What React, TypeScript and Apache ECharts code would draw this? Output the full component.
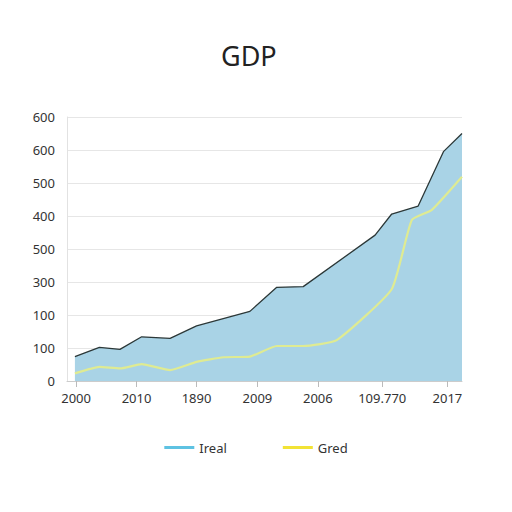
import React, { useEffect, useRef } from "react";
import * as echarts from "echarts";

// x positions are on an abstract 0..100 scale across the plot
const realPoints: [number, number][] = [
  [2.0, 74], [8.2, 102], [13.4, 96], [18.9, 134], [26.1, 129], [32.8, 167],
  [46.3, 211], [53.1, 284], [59.8, 286], [78.0, 442], [82.2, 506],
  [88.9, 530], [95.3, 695], [100, 750],
];
const gredPoints: [number, number][] = [
  [2.0, 23], [8.2, 43], [13.4, 38], [18.9, 51], [26.1, 33], [32.8, 58],
  [39.6, 72], [46.3, 74], [53.1, 106], [59.8, 106], [68.3, 124],
  [82.2, 278], [87.3, 488], [92.3, 518], [100, 619],
];
const xTickPositions = [2.3, 17.6, 32.8, 48.2, 63.5, 79.8, 96.3];
const xTickLabels = ["2000", "2010", "1890", "2009", "2006", "109.770", "2017"];
const yTickLabels = ["0", "100", "100", "300", "500", "400", "500", "600", "600"];
const seriesNames = ["Ireal", "Gred"];

const FONT = "Noto Sans";

export default function App() {
  const ref = useRef<HTMLDivElement>(null);
  useEffect(() => {
    if (!ref.current) return;
    const chart = echarts.init(ref.current, undefined, { renderer: "svg" });
    chart.setOption({
      animation: false,
      backgroundColor: "#ffffff",
      title: {
        text: "GDP",
        left: 208,
        top: 29,
        textStyle: { fontFamily: FONT, fontSize: 27, fontWeight: "normal", color: "#222" },
      },
      legend: {
        bottom: 45,
        left: "center",
        icon: "rect",
        itemWidth: 30,
        itemHeight: 3,
        itemGap: 56,
        textStyle: { fontFamily: FONT, fontSize: 13, color: "#333" },
        data: [
          { name: seriesNames[0], itemStyle: { color: "#5ec2e2" } },
          { name: seriesNames[1], itemStyle: { color: "#f2e335" } },
        ],
      },
      grid: { left: 59, right: 42, top: 109, bottom: 123 },
      xAxis: {
        type: "value",
        min: 0,
        max: 100,
        splitLine: { show: false },
        axisLine: { show: true, lineStyle: { color: "#cccccc" } },
        axisTick: {
          show: true,
          customValues: xTickPositions,
          length: 6,
          lineStyle: { color: "#bbbbbb" },
        },
        axisLabel: {
          customValues: xTickPositions,
          formatter: (v: number) => {
            const i = xTickPositions.indexOf(v);
            return i >= 0 ? xTickLabels[i] : "";
          },
          fontFamily: FONT,
          fontSize: 13,
          color: "#333",
          margin: 10,
        },
      },
      yAxis: {
        type: "value",
        min: 0,
        max: 800,
        interval: 100,
        axisLine: { show: true, lineStyle: { color: "#e2e2e2" } },
        axisTick: { show: false },
        splitLine: { lineStyle: { color: "#e6e6e6" } },
        axisLabel: {
          formatter: (v: number) => yTickLabels[Math.round(v / 100)] ?? "",
          fontFamily: FONT,
          fontSize: 13,
          color: "#333",
          margin: 12,
        },
      },
      series: [
        {
          name: seriesNames[0],
          type: "line",
          data: realPoints,
          symbol: "none",
          itemStyle: { color: "#5ec2e2" },
          lineStyle: { color: "#2c3838", width: 1.3 },
          areaStyle: { color: "#a9d3e6", opacity: 1 },
          z: 2,
        },
        {
          name: seriesNames[1],
          type: "line",
          data: gredPoints,
          symbol: "none",
          smooth: 0.15,
          itemStyle: { color: "#f2e335" },
          lineStyle: { color: "#dfeb92", width: 2.2 },
          z: 3,
        },
      ],
    });
    return () => chart.dispose();
  }, []);
  return <div ref={ref} style={{ width: 496, height: 496 }} />;
}
